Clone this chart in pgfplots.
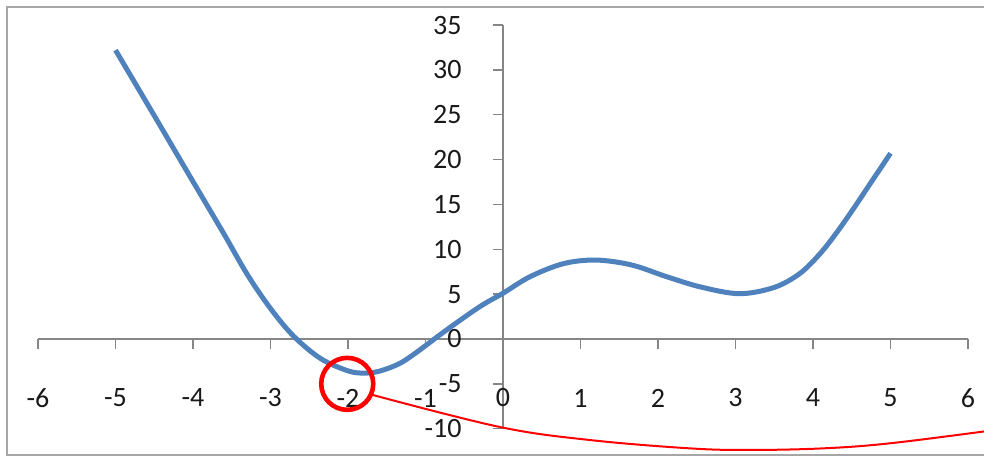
\documentclass[border=0pt]{standalone}
\usepackage{fontspec}
\setmainfont{Carlito}
\usepackage{pgfplots}
\pgfplotsset{compat=1.18}
\definecolor{serblue}{HTML}{4F81BD}
\definecolor{axgray}{HTML}{868686}
\definecolor{framegray}{HTML}{A6A6A6}
\begin{document}
\begin{tikzpicture}
\useasboundingbox (-19pt,-14.15pt) rectangle (473pt,214.35pt);
\draw[framegray, line width=0.75pt] (480pt,210.85pt) -- (-15.5pt,210.85pt) -- (-15.5pt,-13.15pt) -- (480pt,-13.15pt);
\begin{axis}[
  at={(0pt,0pt)}, anchor=south west,
  scale only axis, width=465pt, height=201.85pt,
  xmin=-6, xmax=6, ymin=-10, ymax=35,
  axis lines=middle,
  axis line style={-, axgray, line width=0.75pt},
  xtick={-6,-5,...,6}, ytick={-10,-5,...,35},
  hide obscured x ticks=false, hide obscured y ticks=false,
  major tick length=5pt,
  tick align=outside,
  tick style={axgray, line width=0.75pt},
  clip=false,
  tick label style={font=\fontsize{14}{16}\selectfont, text=black!90},
  /pgf/number format/assume math mode=true,
  x tick label style={anchor=center, yshift=-24.5pt, inner sep=0pt},
  y tick label style={anchor=east, xshift=-15.5pt, inner sep=0pt},
]
\addplot[serblue, line width=2.5pt, smooth, tension=0.55] coordinates {
(-5.0,32.2) (-4.5,24.9) (-4.0,17.55) (-3.6,11.7) (-3.3,7.2)
(-3.0,3.4) (-2.7,0.3) (-2.35,-2.2) (-2.0,-3.55) (-1.8,-3.8) (-1.6,-3.6)
(-1.35,-2.8) (-1.15,-1.7) (-0.73,1.0) (-0.30,3.6) (0,5.1) (0.35,6.95) (0.78,8.4) (1.2,8.8)
(1.66,8.25) (2.11,6.95) (2.55,5.8) (3.05,5.05) (3.5,5.75) (3.83,7.3) (4.09,9.5)
(4.3,11.8) (4.52,14.5) (4.76,17.6) (5.0,20.7)
};
\addplot[red, line width=1pt, smooth, tension=0.6] coordinates {
(-1.68,-6.24) (-0.04,-9.81) (1.12,-11.26) (2.41,-12.19) (3.19,-12.37) (4.13,-12.19) (4.99,-11.63) (6.3,-10.2)
};
\addplot[red, only marks, mark=o, mark size=13pt, mark options={line width=2.3pt}] coordinates {(-2.01,-5.0)};
\end{axis}
\end{tikzpicture}
\end{document}
